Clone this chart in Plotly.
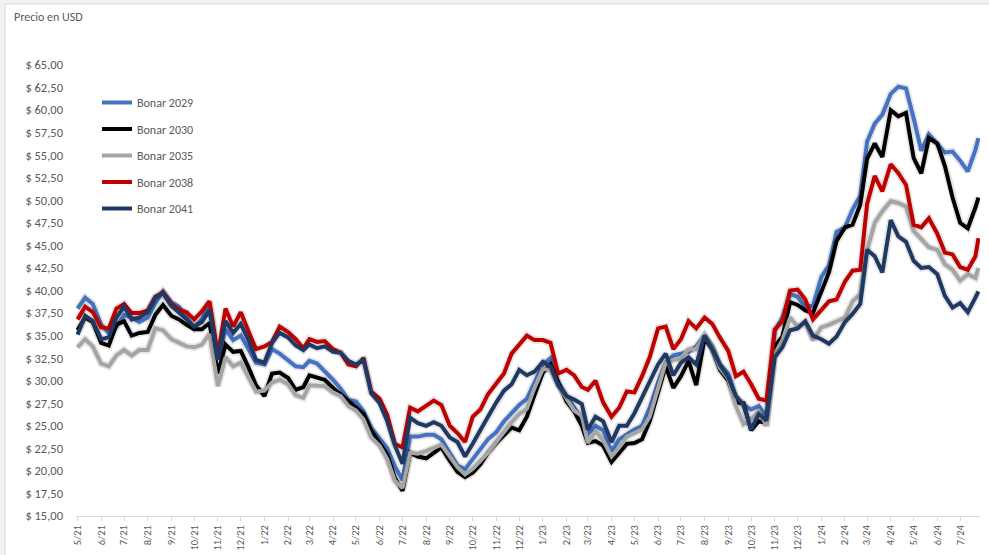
import plotly.graph_objects as go
from datetime import date

# ---------------- data (3 samples per month) ----------------
MONTH_LABELS = ["5/21", "6/21", "7/21", "8/21", "9/21", "10/21", "11/21", "12/21",
                "1/22", "2/22", "3/22", "4/22", "5/22", "6/22", "7/22", "8/22", "9/22",
                "10/22", "11/22", "12/22", "1/23", "2/23", "3/23", "4/23", "5/23", "6/23",
                "7/23", "8/23", "9/23", "10/23", "11/23", "12/23", "1/24", "2/24", "3/24",
                "4/24", "5/24", "6/24", "7/24"]
SAMPLE_DAYS = [1, 11, 21]
LAST_DATE = "2024-07-25"

BONAR_2029 = [38.0, 39.2, 38.5, 36.2, 35.3, 36.0, 37.3, 37.0, 36.5, 37.0, 38.6, 39.9,
              38.7, 38.2, 37.0, 35.9, 36.8, 38.6, 32.5, 35.7, 34.5, 35.0, 33.5, 32.0,
              31.8, 33.5, 33.0, 32.2, 31.6, 31.5, 32.2, 31.9, 31.1, 30.1, 29.1, 27.9,
              27.7, 26.6, 24.8, 23.6, 22.5, 20.5, 19.0, 23.8, 23.8, 24.0, 24.0, 23.5,
              22.0, 20.6, 20.2, 21.3, 22.3, 23.5, 24.3, 25.5, 26.4, 27.3, 28.0, 29.9,
              31.8, 32.5, 29.8, 28.3, 27.1, 25.8, 24.1, 25.0, 24.5, 22.2, 23.5, 24.1,
              24.6, 25.0, 27.0, 29.8, 32.0, 32.8, 33.0, 33.2, 33.8, 35.0, 33.8, 31.8,
              30.8, 28.2, 27.3, 26.8, 27.2, 26.1, 35.5, 37.0, 39.6, 39.3, 38.2, 38.3,
              41.5, 42.8, 46.5, 47.0, 49.0, 50.5, 56.5, 58.5, 59.5, 61.8, 62.6, 62.4,
              59.1, 55.5, 57.3, 56.3, 55.3, 55.4, 54.4, 53.2, 55.6, 56.9]

BONAR_2030 = [35.6, 37.0, 36.5, 34.2, 33.9, 36.2, 36.6, 35.0, 35.3, 35.4, 37.3, 38.4,
              37.2, 36.8, 36.2, 35.7, 35.7, 36.4, 30.8, 34.0, 33.2, 33.3, 31.5, 29.5,
              28.3, 30.8, 30.9, 30.3, 29.0, 29.3, 30.6, 30.3, 30.1, 29.2, 28.5, 27.7,
              27.1, 26.3, 24.5, 23.1, 21.8, 19.2, 17.8, 22.0, 21.6, 21.4, 22.0, 22.6,
              21.1, 19.9, 19.3, 19.8, 20.7, 22.0, 23.1, 23.9, 24.8, 24.5, 26.0, 28.4,
              30.9, 31.8, 29.8, 27.7, 26.6, 25.0, 23.1, 23.3, 22.8, 21.0, 22.0, 23.0,
              23.1, 23.5, 25.5, 28.8, 31.6, 29.2, 30.5, 32.2, 29.5, 34.7, 33.5, 31.2,
              30.0, 27.6, 27.5, 24.5, 25.5, 25.3, 33.8, 34.9, 38.7, 38.4, 37.8, 37.5,
              40.0, 42.0, 45.5, 47.0, 47.3, 49.5, 54.6, 56.3, 54.8, 60.0, 59.3, 59.7,
              54.7, 53.0, 56.9, 56.3, 53.8, 50.3, 47.5, 46.9, 49.2, 50.3]

BONAR_2035 = [33.7, 34.6, 33.8, 31.9, 31.6, 32.8, 33.4, 32.8, 33.4, 33.4, 35.8, 35.6,
              34.6, 34.2, 33.8, 33.7, 34.0, 35.2, 29.4, 32.6, 31.6, 32.0, 30.5, 28.8,
              28.9, 29.8, 30.1, 29.6, 28.4, 28.1, 29.5, 29.4, 29.4, 28.7, 28.3, 27.2,
              26.7, 25.7, 23.7, 22.8, 21.3, 18.9, 18.1, 22.0, 21.9, 22.2, 22.6, 22.9,
              21.6, 20.4, 19.6, 20.2, 21.1, 22.0, 23.2, 24.3, 25.4, 26.3, 26.9, 29.2,
              31.3, 31.2, 29.5, 28.0, 26.7, 26.1, 23.1, 24.4, 23.4, 21.6, 22.6, 23.8,
              24.2, 24.6, 26.0, 29.2, 32.0, 32.3, 32.5, 33.5, 33.5, 35.0, 33.6, 31.4,
              30.2, 27.2, 25.2, 25.7, 26.6, 25.0, 33.0, 34.5, 37.0, 36.0, 36.4, 34.5,
              35.9, 36.2, 36.6, 37.0, 38.8, 39.6, 44.5, 47.5, 48.8, 49.9, 49.7, 49.3,
              46.6, 45.7, 44.8, 44.5, 42.9, 42.3, 41.1, 41.8, 41.4, 42.5]

BONAR_2038 = [36.8, 38.2, 37.6, 35.9, 35.8, 38.0, 38.5, 37.5, 37.5, 37.8, 39.3, 39.8,
              38.5, 37.9, 37.6, 36.8, 37.7, 38.8, 32.8, 38.0, 36.0, 37.6, 35.5, 33.5,
              33.8, 34.3, 36.0, 35.4, 34.6, 33.6, 34.6, 34.3, 34.4, 33.5, 33.1, 31.8,
              31.6, 32.5, 28.8, 28.0, 26.2, 23.0, 22.6, 27.0, 26.6, 27.3, 27.8, 27.3,
              25.0, 24.2, 23.2, 26.0, 26.8, 28.5, 29.7, 30.8, 33.0, 34.0, 35.0, 34.5,
              34.5, 34.2, 30.8, 31.2, 30.6, 29.3, 29.0, 30.0, 27.6, 26.0, 27.0, 28.8,
              28.7, 30.5, 32.6, 35.8, 36.0, 33.5, 34.6, 36.6, 35.8, 37.0, 36.3, 34.8,
              33.3, 30.5, 31.0, 29.6, 28.0, 27.8, 35.7, 36.6, 40.0, 40.1, 39.0, 36.8,
              37.9, 38.8, 39.0, 41.0, 42.2, 42.3, 49.6, 52.7, 51.0, 54.0, 53.0, 51.7,
              47.3, 47.0, 48.0, 46.3, 44.2, 44.0, 42.6, 42.3, 43.8, 45.8]

BONAR_2041 = [35.1, 37.2, 36.6, 34.6, 34.8, 37.0, 38.2, 36.8, 37.0, 37.6, 39.2, 39.7,
              38.3, 37.6, 36.8, 36.0, 36.5, 37.8, 32.3, 36.6, 35.3, 36.3, 34.5, 32.3,
              32.0, 34.2, 35.3, 34.8, 33.9, 33.4, 34.0, 33.6, 33.8, 33.2, 33.1, 32.2,
              31.8, 32.3, 28.6, 27.5, 25.5, 22.8, 20.8, 25.9, 25.3, 25.0, 25.4, 25.0,
              23.7, 23.2, 21.6, 23.0, 24.6, 26.0, 27.6, 28.9, 29.6, 31.2, 30.6, 31.0,
              32.1, 31.6, 29.5, 28.3, 27.9, 27.4, 24.6, 26.0, 25.5, 23.2, 25.0, 25.0,
              26.4, 28.2, 30.0, 31.8, 33.0, 30.6, 32.0, 32.6, 31.8, 35.0, 33.5, 31.8,
              30.4, 28.3, 27.3, 24.6, 26.3, 25.6, 32.6, 33.7, 35.6, 35.8, 36.6, 35.0,
              34.6, 34.1, 34.9, 36.5, 37.4, 38.5, 44.5, 43.8, 42.0, 47.8, 46.0, 45.4,
              43.3, 42.5, 42.6, 41.8, 39.4, 38.1, 38.6, 37.6, 39.2, 39.9]

SERIES_NAMES = ["Bonar 2029", "Bonar 2030", "Bonar 2035", "Bonar 2038", "Bonar 2041"]
SERIES_VALUES = [BONAR_2029, BONAR_2030, BONAR_2035, BONAR_2038, BONAR_2041]
SERIES_COLORS = ["#4472C4", "#000000", "#A5A5A5", "#C00000", "#203864"]

Y_TICKS = [15.0, 17.5, 20.0, 22.5, 25.0, 27.5, 30.0, 32.5, 35.0, 37.5, 40.0, 42.5,
           45.0, 47.5, 50.0, 52.5, 55.0, 57.5, 60.0, 62.5, 65.0]
TITLE = "Precio en USD"

# ---------------- build dates ----------------
def label_to_date(lbl, day=1):
    m, yy = lbl.split("/")
    return date(2000 + int(yy), int(m), day)

DATES = []
for lbl in MONTH_LABELS:
    for d in SAMPLE_DAYS:
        DATES.append(label_to_date(lbl, d).isoformat())
DATES.append(LAST_DATE)

TICK_VALS = [label_to_date(l).isoformat() for l in MONTH_LABELS]
Y_TEXT = ["$ " + f"{v:.2f}".replace(".", ",") for v in Y_TICKS]

# ---------------- layout geometry (pixels) ----------------
W, H = 989, 555
L, R, T, B = 76, 9, 65, 39
PW, PH = W - L - R, H - T - B

def px(x):
    return (x - L) / PW

def py(y):
    return (H - B - y) / PH

FONT = "Calibri, Carlito, 'Liberation Sans', Arial, sans-serif"
TXT = "#595959"

fig = go.Figure()
for i, (name, vals, col) in enumerate(zip(SERIES_NAMES, SERIES_VALUES, SERIES_COLORS)):
    # soft shadow under each line (Excel line shadow effect)
    fig.add_trace(go.Scatter(
        x=DATES, y=vals, mode="lines", name=name + " shadow",
        line=dict(color="rgba(0,0,0,0.10)", width=7.5),
        showlegend=False, hoverinfo="skip", legendgroup=f"g{i}",
    ))
    fig.add_trace(go.Scatter(
        x=DATES, y=vals, mode="lines", name=name,
        line=dict(color=col, width=4),
        legendgroup=f"g{i}",
    ))

fig.update_layout(
    width=W, height=H,
    margin=dict(l=L, r=R, t=T, b=B, pad=0),
    paper_bgcolor="#F2F2F2",
    plot_bgcolor="rgba(0,0,0,0)",
    font=dict(family=FONT, color=TXT, size=12),
    showlegend=True,
    legend=dict(
        x=px(97), y=py(88), xanchor="left", yanchor="top",
        bgcolor="rgba(0,0,0,0)", font=dict(size=12, color=TXT, family=FONT),
        tracegroupgap=7.5, itemwidth=30,
    ),
    shapes=[dict(
        type="rect", xref="paper", yref="paper", layer="below",
        x0=px(5), x1=px(1000), y0=py(565), y1=py(4),
        fillcolor="white", line=dict(color="#D9D9D9", width=1),
    )],
    annotations=[dict(
        text=TITLE, xref="paper", yref="paper", x=px(12), y=py(17),
        xanchor="left", yanchor="middle", showarrow=False,
        font=dict(size=12, color=TXT, family=FONT),
    )],
)

fig.update_xaxes(
    type="date", range=["2021-04-29", "2024-07-27"],
    tickmode="array", tickvals=TICK_VALS, ticktext=MONTH_LABELS,
    tickangle=-90, tickfont=dict(size=10.5, color=TXT, family=FONT),
    showline=True, linecolor="#D9D9D9", linewidth=1,
    ticks="outside", ticklen=4, tickcolor="#D9D9D9",
    showgrid=False, zeroline=False, automargin=False,
)
fig.update_yaxes(
    range=[15, 65], tickmode="array", tickvals=Y_TICKS, ticktext=Y_TEXT,
    tickfont=dict(size=12.5, color=TXT, family=FONT),
    showline=False, ticks="", ticklabelstandoff=12,
    showgrid=False, zeroline=False, automargin=False,
)

fig.write_html("out.html", config={"displayModeBar": False},
               post_script="document.body.style.margin='0px';")
